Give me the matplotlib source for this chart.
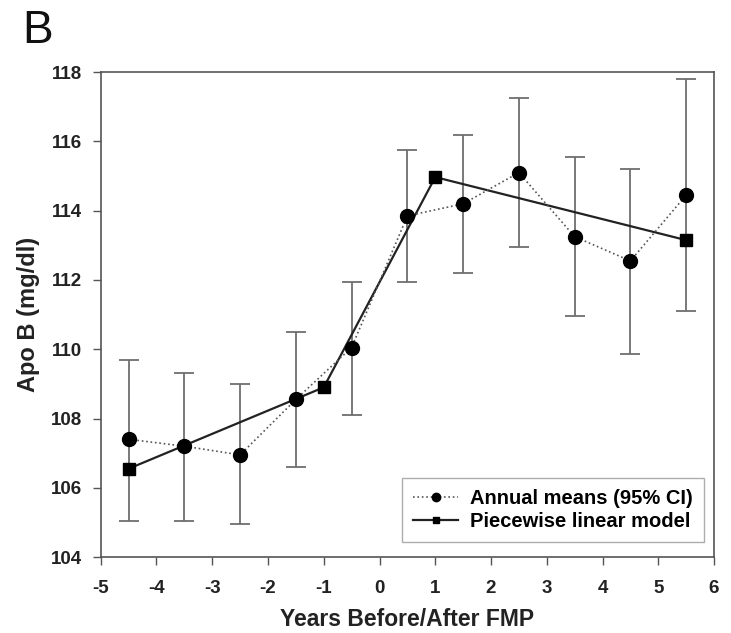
import matplotlib
matplotlib.use("Agg")
import matplotlib.pyplot as plt
import numpy as np

plt.rcParams['font.family'] = ['Liberation Sans', 'DejaVu Sans']
plt.rcParams['axes.unicode_minus'] = False

years = [-4.5, -3.5, -2.5, -1.5, -0.5, 0.5, 1.5, 2.5, 3.5, 4.5, 5.5]
means = [107.4, 107.2, 106.95, 108.55, 110.05, 113.85, 114.2, 115.1, 113.25, 112.55, 114.45]
ci_low = [105.05, 105.05, 104.95, 106.6, 108.1, 111.95, 112.2, 112.95, 110.95, 109.85, 111.1]
ci_high = [109.7, 109.3, 109.0, 110.5, 111.95, 115.75, 116.2, 117.25, 115.55, 115.2, 117.8]

model_x = [-4.5, -1, 1, 5.5]
model_y = [106.55, 108.9, 114.97, 113.15]

xticks = list(range(-5, 7))
yticks = list(range(104, 119, 2))

fig = plt.figure(figsize=(7.31, 6.33), dpi=100)
ax = fig.add_axes([0.1378, 0.12, 0.839, 0.766])

m = np.array(means)
yerr = [m - np.array(ci_low), np.array(ci_high) - m]
ax.errorbar(years, means, yerr=yerr, fmt='none', ecolor='#6e6e6e', elinewidth=1.3,
            capsize=7, capthick=1.3, zorder=2)
ax.plot(years, means, linestyle=':', color='#555555', linewidth=1.2, marker='o',
        markersize=10, markerfacecolor='black', markeredgecolor='black',
        label='Annual means (95% CI)', zorder=4)
ax.plot(model_x, model_y, linestyle='-', color='#222222', linewidth=1.6, marker='s',
        markersize=8, markerfacecolor='black', markeredgecolor='black',
        label='Piecewise linear model', zorder=3)

ax.set_xlim(-5, 6)
ax.set_ylim(104, 118)
ax.set_xticks(xticks)
ax.set_yticks(yticks)
ax.tick_params(direction='out', length=6, width=1, color='#555555', labelsize=13.5)
ax.tick_params(axis='x', pad=10.5)
ax.tick_params(axis='y', pad=7.5)
for lab in ax.get_xticklabels() + ax.get_yticklabels():
    lab.set_fontweight('bold')
    lab.set_color('#222222')
for s in ax.spines.values():
    s.set_color('#555555')
    s.set_linewidth(1.2)

ax.set_xlabel('Years Before/After FMP', fontsize=16.5, fontweight='bold', color='#222222', labelpad=8)
ax.set_ylabel('Apo B (mg/dl)', fontsize=17, fontweight='bold', color='#222222', labelpad=8)

leg = ax.legend(loc='lower right', prop={'weight': 'bold', 'size': 14.5},
                frameon=True, fancybox=False, edgecolor='#999999', borderpad=0.55,
                handlelength=2.2, handletextpad=0.6, labelspacing=0.2, markerscale=0.6,
                borderaxespad=0, bbox_to_anchor=(0.983, 0.031))
leg.get_frame().set_linewidth(1.0)

fig.text(0.03, 0.932, 'B', fontsize=33, color='#111111')

fig.savefig('out.png', dpi=100)
